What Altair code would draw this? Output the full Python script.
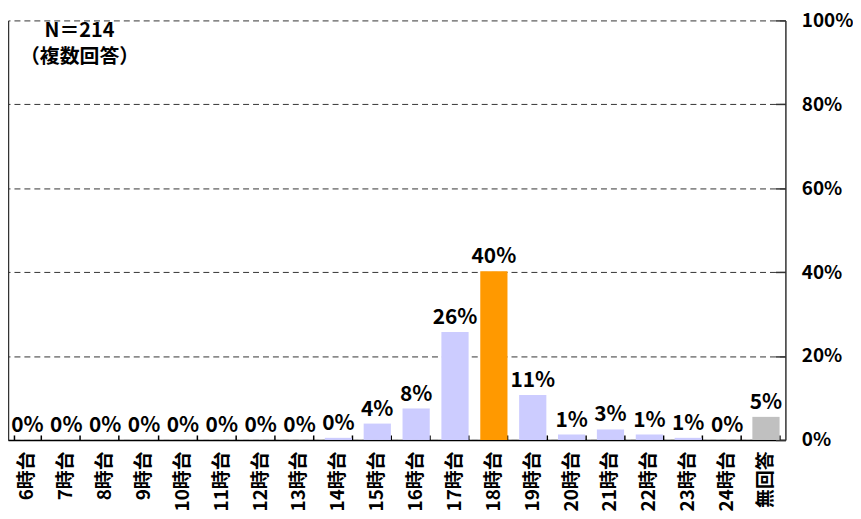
import altair as alt
import pandas as pd

categories = ["6時台", "7時台", "8時台", "9時台", "10時台", "11時台", "12時台",
              "13時台", "14時台", "15時台", "16時台", "17時台", "18時台", "19時台",
              "20時台", "21時台", "22時台", "23時台", "24時台", "無回答"]
values = [0, 0, 0, 0, 0, 0, 0, 0, 0.5, 3.9, 7.5, 25.7, 40.2, 10.7,
          1.3, 2.5, 1.3, 0.5, 0, 5.5]
value_labels = ["0%", "0%", "0%", "0%", "0%", "0%", "0%", "0%", "0%", "4%",
                "8%", "26%", "40%", "11%", "1%", "3%", "1%", "1%", "0%", "5%"]
bar_colors = ["#CCCCFF"] * 12 + ["#FF9900"] + ["#CCCCFF"] * 6 + ["#C0C0C0"]
y_ticks = [0, 20, 40, 60, 80, 100]
note_text = "N＝214\n（複数回答）"

FONT = "Noto Sans CJK JP"
W, H = 782, 422

df = pd.DataFrame({"cat": categories, "val": values, "lab": value_labels})

xscale = alt.Scale(domain=categories, paddingInner=0.3, paddingOuter=0.15)
yscale = alt.Scale(domain=[0, 100], nice=False)

bars = alt.Chart(df).mark_bar().encode(
    x=alt.X("cat:N", scale=xscale, sort=categories, title=None,
            axis=alt.Axis(orient="bottom", labelAngle=270, labelAlign="right",
                          labelBaseline="middle", labelPadding=11, ticks=False,
                          domainColor="#000000", domainWidth=1.5,
                          labelFont=FONT, labelFontSize=19, labelFontWeight="bold",
                          labelColor="#000000", labelOverlap=False, labelLimit=300)),
    y=alt.Y("val:Q", scale=yscale, title=None,
            axis=alt.Axis(orient="right", values=y_ticks, labelExpr="datum.value + '%'",
                          grid=True, gridDash=[6, 4], gridColor="#333333", gridWidth=1,
                          ticks=False, domainColor="#333333", domainWidth=1.5,
                          labelPadding=16, labelAlign="left", labelBaseline="middle",
                          labelFont=FONT, labelFontSize=19, labelFontWeight="bold",
                          labelColor="#000000")),
    color=alt.Color("cat:N", scale=alt.Scale(domain=categories, range=bar_colors), legend=None),
)

texts = alt.Chart(df).mark_text(baseline="alphabetic", dy=-8, font=FONT, fontSize=21,
                                fontWeight="bold", color="#000000").encode(
    x=alt.X("cat:N", scale=xscale, sort=categories, title=None,
            axis=alt.Axis(orient="top", offset=-H, labels=False, domain=False, ticks=True,
                          tickBand="extent", tickSize=5, tickColor="#000000",
                          tickWidth=1.5, grid=False)),
    y=alt.Y("val:Q", scale=yscale, title=None,
            axis=alt.Axis(orient="left", labels=False, ticks=False, grid=False,
                          domain=True, domainColor="#333333", domainWidth=1.5)),
    text="lab:N",
)

rticks = alt.Chart(df).mark_point(opacity=0).encode(
    x=alt.X("cat:N", scale=xscale, sort=categories, axis=None),
    y=alt.Y("val:Q", scale=yscale, title=None,
            axis=alt.Axis(orient="left", offset=-W, values=y_ticks, labels=False,
                          ticks=True, tickSize=10, tickColor="#333333", tickWidth=1.5,
                          domain=False, grid=False)),
)

note = alt.Chart(pd.DataFrame({"t": [note_text]})).mark_text(
    align="center", baseline="top", lineBreak="\n", font=FONT, fontSize=20,
    fontWeight="bold", lineHeight=26, color="#000000").encode(
    x=alt.value(72), y=alt.value(1), text="t:N")

chart = alt.layer(bars, texts, rticks, note).resolve_axis(
    x="independent", y="independent"
).properties(
    width=W, height=H,
    padding={"left": 0, "top": 2, "right": 0, "bottom": 0},
).configure_view(stroke=None)

chart.save("out.html", embed_options={"renderer": "svg", "actions": False})
